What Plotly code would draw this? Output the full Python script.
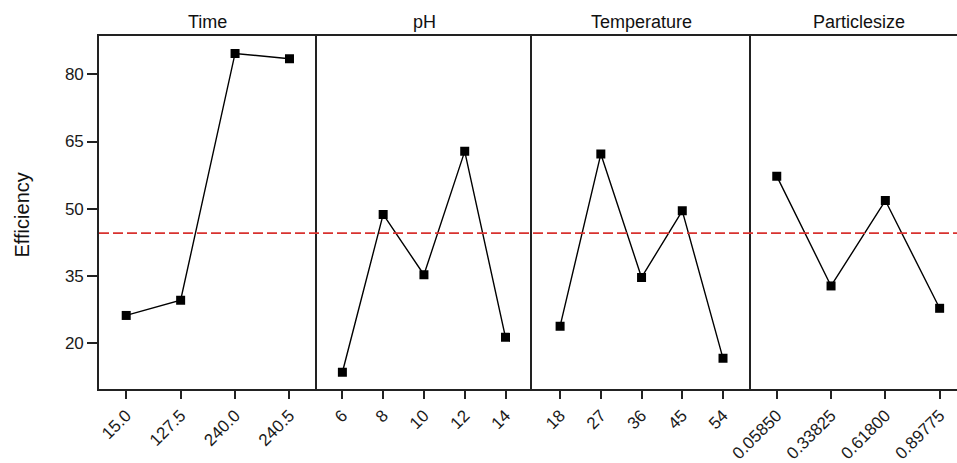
import plotly.graph_objects as go

# ---- data ----
factors = ["Time", "pH", "Temperature", "Particlesize"]
time_levels = ["15.0", "127.5", "240.0", "240.5"]
time_eff = [26.1, 29.5, 84.7, 83.5]
ph_levels = ["6", "8", "10", "12", "14"]
ph_eff = [13.4, 48.7, 35.2, 62.8, 21.2]
temp_levels = ["18", "27", "36", "45", "54"]
temp_eff = [23.7, 62.2, 34.6, 49.5, 16.5]
size_levels = ["0.05850", "0.33825", "0.61800", "0.89775"]
size_eff = [57.25, 32.7, 51.8, 27.7]
mean_eff = 44.5
y_ticks = [20, 35, 50, 65, 80]

levels = [time_levels, ph_levels, temp_levels, size_levels]
effs = [time_eff, ph_eff, temp_eff, size_eff]

# ---- layout geometry ----
W, H = 957, 463
ml, mr, mt, mb = 99, 0, 36, 71
bounds_px = [99, 316.7, 532, 750.7, 957]
pw = W - ml - mr
domains = [[(bounds_px[i] - ml) / pw, (bounds_px[i + 1] - ml) / pw] for i in range(4)]
x_ranges = [[-0.5, 3.5], [-0.63, 4.65], [-0.69, 4.68], [-0.48, 3.32]]
y_range = [9.65, 88.6]

fig = go.Figure()
line_col = "#222222"
font_fam = "Liberation Sans, Arial, sans-serif"

for i in range(4):
    sfx = "" if i == 0 else str(i + 1)
    fig.add_trace(go.Scatter(
        x=levels[i], y=effs[i], mode="lines+markers",
        line=dict(color="black", width=1.4),
        marker=dict(symbol="square", size=9, color="black"),
        xaxis="x" + sfx, yaxis="y" + sfx, showlegend=False,
        hoverinfo="x+y"))
    fig.layout["xaxis" + sfx] = dict(
        domain=domains[i], type="category", range=x_ranges[i],
        showline=True, mirror=True, linecolor=line_col, linewidth=1.8,
        ticks="outside", ticklen=8, tickwidth=1.5, tickcolor=line_col,
        tickangle=-45, showgrid=False, zeroline=False,
        tickfont=dict(family=font_fam, size=17, color="#1a1a1a"),
        anchor="y" + sfx, fixedrange=True)
    ycfg = dict(
        domain=[0, 1], range=y_range, showline=True, mirror=False,
        linecolor=line_col, linewidth=1.6, showgrid=False, zeroline=False,
        anchor="x" + sfx, fixedrange=True)
    if i == 0:
        ycfg.update(ticks="outside", ticklen=10, tickwidth=1.5, tickcolor=line_col,
                    tickvals=y_ticks, tickfont=dict(family=font_fam, size=17, color="#1a1a1a"))
    else:
        ycfg.update(showticklabels=False, ticks="", matches="y")
    fig.layout["yaxis" + sfx] = ycfg
    fig.add_annotation(
        text=factors[i], xref="paper", yref="paper",
        x=(domains[i][0] + domains[i][1]) / 2 if i < 3 else (bounds_px[3] + 217 / 2 - ml) / pw,
        y=1 + (mt - 22) / (H - mt - mb), yanchor="middle", xanchor="center",
        showarrow=False, font=dict(family=font_fam, size=18, color="#111"))

fig.add_shape(type="line", xref="paper", yref="y", x0=0, x1=1, y0=mean_eff, y1=mean_eff,
              line=dict(color="#d8322f", width=1.8, dash="10px,4px"))

fig.add_annotation(text="Efficiency", xref="paper", yref="paper",
                   x=(22 - ml) / pw, y=0.5 - (217 - 214) / (H - mt - mb), textangle=-90, showarrow=False,
                   xanchor="center", yanchor="middle",
                   font=dict(family=font_fam, size=20, color="#111"))

fig.update_layout(width=W, height=H, margin=dict(l=ml, r=mr, t=mt, b=mb),
                  plot_bgcolor="white", paper_bgcolor="white")

fig.write_html("out.html", config={"displayModeBar": False})
